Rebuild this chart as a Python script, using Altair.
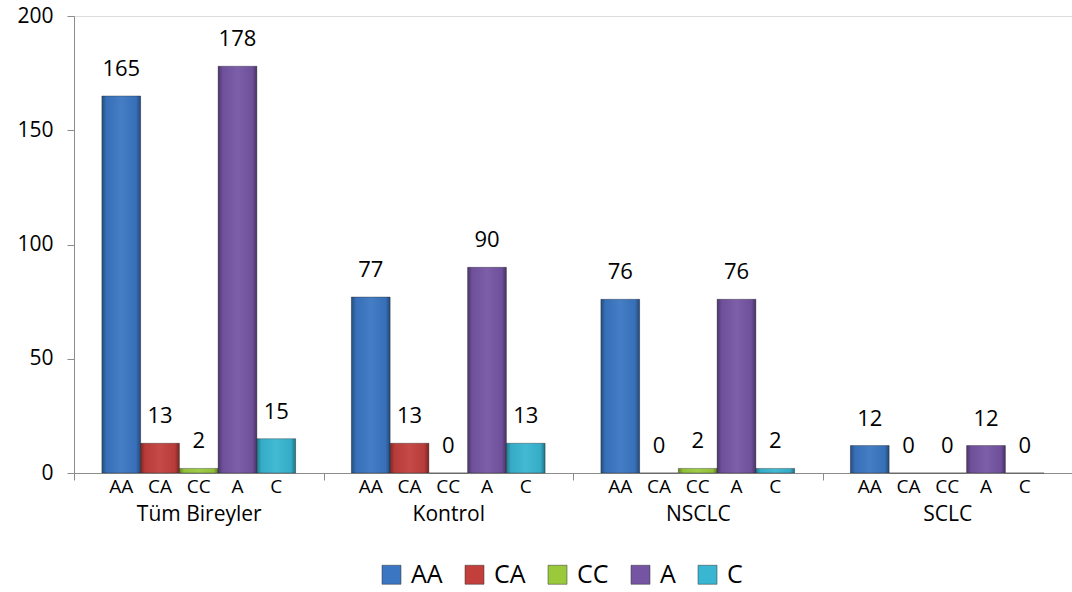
import altair as alt
import pandas as pd

# Categories
groups = ["Tüm Bireyler", "Kontrol", "NSCLC", "SCLC"]
genotypes = ["AA", "CA", "CC", "A", "C"]

# Counts per genotype / allele, one value per group (in group order)
aa = [165, 77, 76, 12]
ca = [13, 13, 0, 0]
cc = [2, 0, 2, 0]
a_allele = [178, 90, 76, 12]
c_allele = [15, 13, 2, 0]

series = {"AA": aa, "CA": ca, "CC": cc, "A": a_allele, "C": c_allele}
palette = ["#3a76c2", "#c23f3c", "#9aca3c", "#7554a3", "#38b6d2"]

rows = []
for g_i, g in enumerate(groups):
    for gt in genotypes:
        rows.append({"group": g, "genotype": gt, "count": series[gt][g_i]})
df = pd.DataFrame(rows)

FONT = "Open Sans"

x_enc = alt.X(
    "group:N",
    sort=groups,
    scale=alt.Scale(paddingInner=0, paddingOuter=0),
    axis=alt.Axis(
        title=None,
        labelAngle=0,
        tickBand="extent",
        tickSize=7,
        labelFontSize=21,
        labelFont=FONT,
        labelColor="#000000",
        labelBaseline="alphabetic",
        labelPadding=40,
        domainColor="#8c8c8c",
        tickColor="#8c8c8c",
    ),
)
xo_enc = alt.XOffset(
    "genotype:N",
    sort=genotypes,
    scale=alt.Scale(paddingInner=0, paddingOuter=0.72),
)
y_enc = alt.Y(
    "count:Q",
    scale=alt.Scale(domain=[0, 200], nice=False),
    axis=alt.Axis(
        title=None,
        values=[0, 50, 100, 150, 200],
        grid=False,
        tickSize=7,
        labelFontSize=21,
        labelFont=FONT,
        labelColor="#000000",
        labelPadding=14,
        domainColor="#8c8c8c",
        tickColor="#8c8c8c",
    ),
)

base = alt.Chart(df)

bars = base.mark_bar(stroke="#2a2a2a", strokeWidth=0.7, strokeOpacity=0.55).encode(
    x=x_enc,
    xOffset=xo_enc,
    y=y_enc,
    color=alt.Color(
        "genotype:N",
        sort=genotypes,
        scale=alt.Scale(domain=genotypes, range=palette),
        legend=alt.Legend(
            title=None,
            orient="none",
            direction="horizontal",
            legendX=305,
            legendY=546,
            symbolType="square",
            symbolSize=361,
            symbolOpacity=1,
            symbolStrokeColor="#333333",
            symbolStrokeWidth=0.5,
            labelFontSize=25,
            labelFont=FONT,
            labelColor="#000000",
            labelOffset=7,
            columnPadding=19,
            padding=0,
        ),
    ),
)

# darker edges give the bars a rounded, shaded look
shade = base.mark_bar(
    color=alt.Gradient(
        gradient="linear",
        x1=0, x2=1, y1=0, y2=0,
        stops=[
            alt.GradientStop(color="rgba(0,0,0,0.35)", offset=0),
            alt.GradientStop(color="rgba(0,0,0,0.05)", offset=0.12),
            alt.GradientStop(color="rgba(255,255,255,0.06)", offset=0.5),
            alt.GradientStop(color="rgba(0,0,0,0.05)", offset=0.88),
            alt.GradientStop(color="rgba(0,0,0,0.38)", offset=1),
        ],
    )
).encode(x=x_enc, xOffset=xo_enc, y=y_enc)

values = base.mark_text(
    dy=-20, baseline="alphabetic", fontSize=22, font=FONT, color="#000000"
).encode(x=x_enc, xOffset=xo_enc, y=y_enc, text="count:Q")

sublabels = base.mark_text(
    baseline="alphabetic", fontSize=19, font=FONT, color="#000000"
).encode(x=x_enc, xOffset=xo_enc, y=alt.value(477), text="genotype:N")

chart = (
    alt.layer(bars, shade, values, sublabels)
    .properties(
        width=998,
        height=457,
        padding={"left": 74, "top": 16, "right": 0, "bottom": 118},
        autosize=alt.AutoSizeParams(type="none"),
    )
    .configure_view(stroke=None)
    .configure(background="#ffffff")
)

chart.save("out.html", embed_options={"renderer": "svg", "actions": False})
